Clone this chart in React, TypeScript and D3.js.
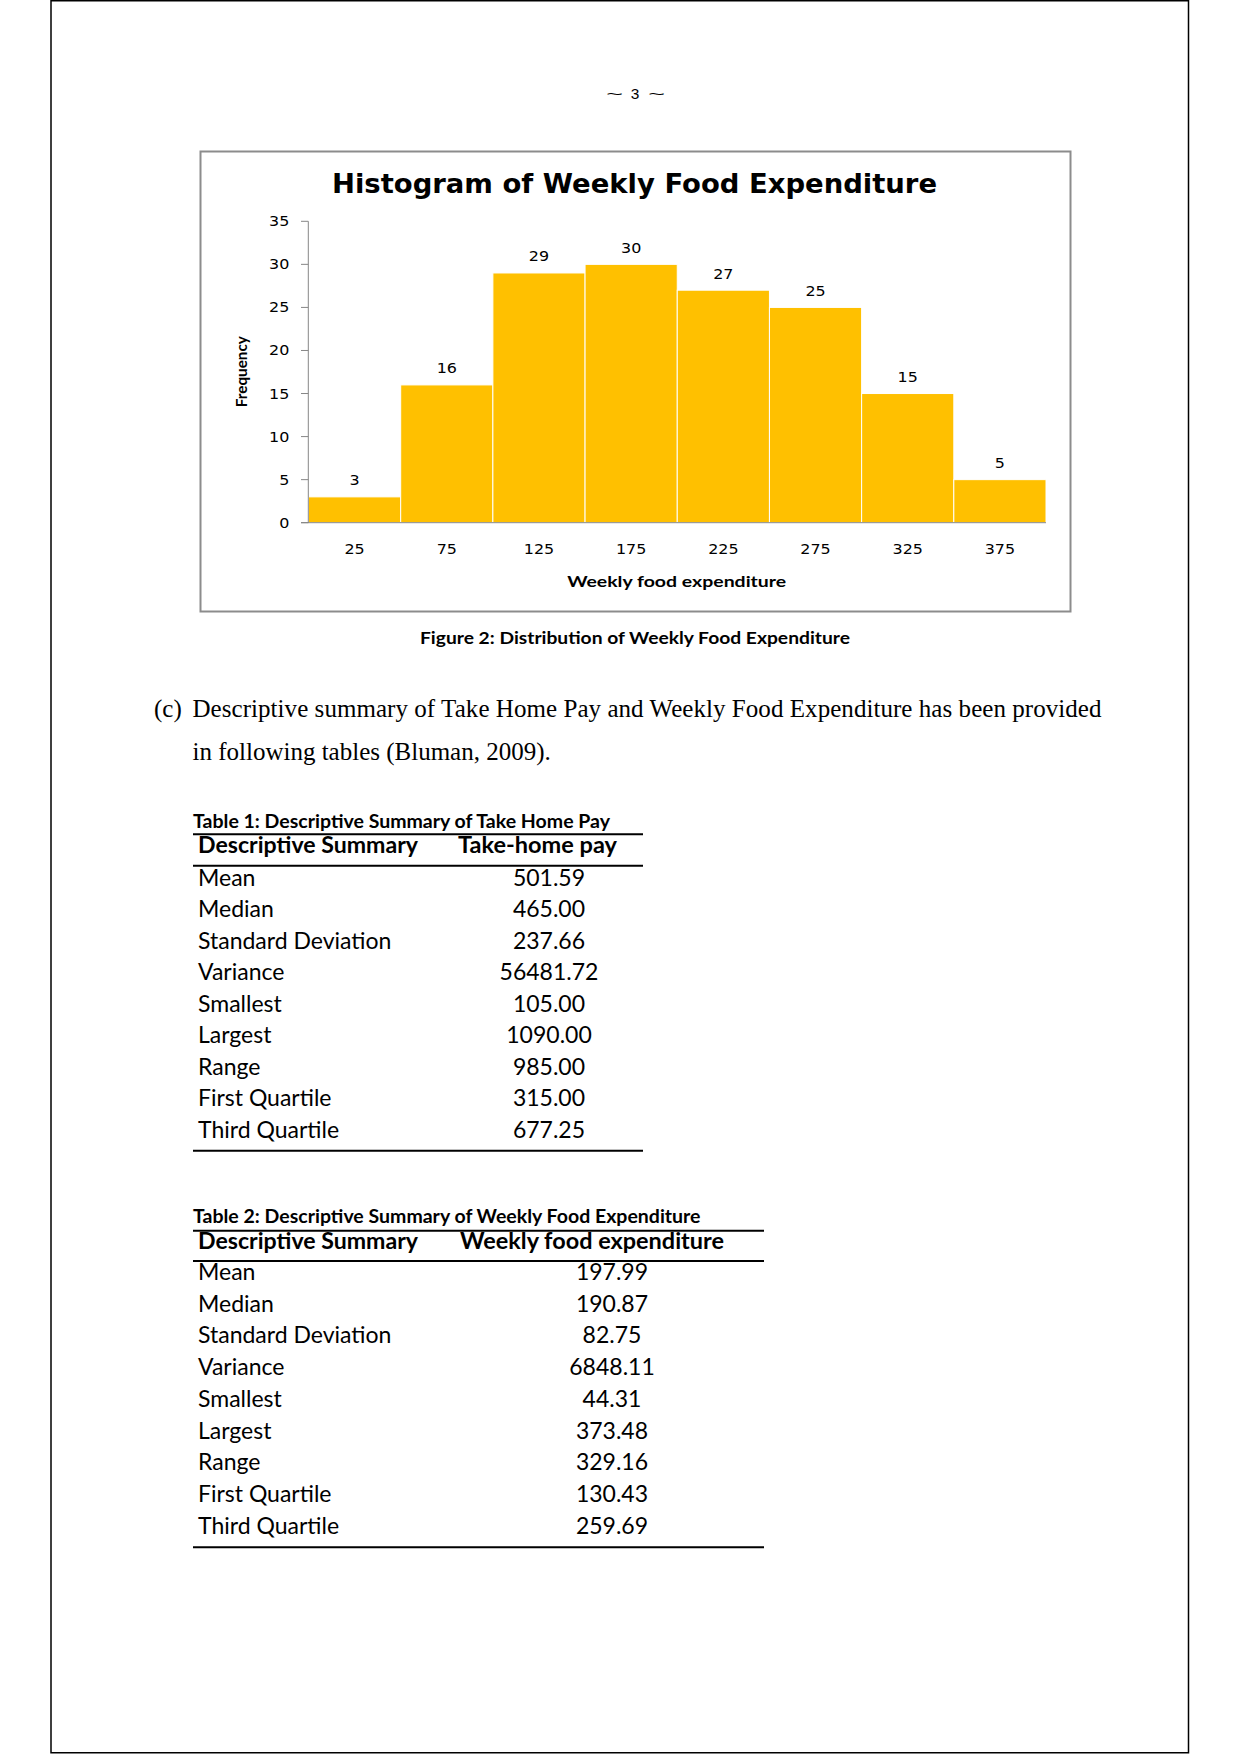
import React from "react";
import * as d3 from "d3";

const binMidpoints = ["25", "75", "125", "175", "225", "275", "325", "375"];
const frequencies = [3, 16, 29, 30, 27, 25, 15, 5];
const yTicks = [0, 5, 10, 15, 20, 25, 30, 35];

const summaryLabels = [
  "Mean",
  "Median",
  "Standard Deviation",
  "Variance",
  "Smallest",
  "Largest",
  "Range",
  "First Quartile",
  "Third Quartile",
];
const takeHomePay = ["501.59", "465.00", "237.66", "56481.72", "105.00", "1090.00", "985.00", "315.00", "677.25"];
const foodExpenditure = ["197.99", "190.87", "82.75", "6848.11", "44.31", "373.48", "329.16", "130.43", "259.69"];

const W = 1241;
const H = 1754;

function SText(props: any) {
  const { x, y, sx = 1, anchor = "start", children, ...rest } = props;
  return (
    <text transform={`translate(${x},${y}) scale(${sx},1)`} textAnchor={anchor} {...rest}>
      {children}
    </text>
  );
}

function Table(props: any) {
  const { title, titleY, titleLen, topY, right, headerY, header, headerX, headerLen, headerLineY, rowY0, rowStep, values, valueX, bottomY } = props;
  const left = 193;
  const font = "Lato, 'Open Sans', sans-serif";
  return (
    <g fontFamily={font} fill="#000">
      <text x={left} y={titleY} fontSize={18.5} fontWeight={700} textLength={titleLen} lengthAdjust="spacingAndGlyphs">
        {title}
      </text>
      <line x1={left} x2={right} y1={topY} y2={topY} stroke="#000" strokeWidth={2} />
      <text x={198} y={headerY} fontSize={23} fontWeight={700} textLength={220} lengthAdjust="spacingAndGlyphs">
        Descriptive Summary
      </text>
      <text x={headerX} y={headerY} fontSize={23} fontWeight={700} textAnchor="middle" textLength={headerLen} lengthAdjust="spacingAndGlyphs">
        {header}
      </text>
      <line x1={left} x2={right} y1={headerLineY} y2={headerLineY} stroke="#000" strokeWidth={2} />
      {summaryLabels.map((lab, i) => (
        <g key={lab}>
          <text x={198} y={rowY0 + i * rowStep} fontSize={23}>
            {lab}
          </text>
          <text x={valueX} y={rowY0 + i * rowStep} fontSize={23} textAnchor="middle">
            {values[i]}
          </text>
        </g>
      ))}
      <line x1={left} x2={right} y1={bottomY} y2={bottomY} stroke="#000" strokeWidth={2} />
    </g>
  );
}

export default function App() {
  const x = d3.scaleBand<string>().domain(binMidpoints).range([308.5, 1046]).padding(0);
  const y = d3.scaleLinear().domain([0, 35]).range([522.7, 221.3]);
  const chartFont = "'DejaVu Sans', Verdana, sans-serif";
  const sx = 1.14;
  const fs = 14;

  return (
    <svg width={W} height={H} viewBox={`0 0 ${W} ${H}`} style={{ position: "absolute", left: 0, top: 0, background: "#fff" }}>
      <rect x={0} y={0} width={W} height={H} fill="#fff" />
      {/* page border */}
      <rect x={51} y={0.75} width={1137.5} height={1752} fill="none" stroke="#000" strokeWidth={1.5} />

      {/* page number */}
      <g fontFamily="'Liberation Sans', Arial, sans-serif" fontSize={15} fill="#000">
        <SText x={614.5} y={98.7} sx={1.9} anchor="middle">~</SText>
        <SText x={635} y={98.7} sx={1.03} anchor="middle">3</SText>
        <SText x={656.5} y={98.7} sx={1.9} anchor="middle">~</SText>
      </g>

      {/* chart frame */}
      <rect x={200.5} y={151.5} width={870} height={460} fill="#fff" stroke="#8c8c8c" strokeWidth={2} />

      <text x={634.5} y={193.3} fontFamily={chartFont} fontWeight={700} fontSize={26} textAnchor="middle" textLength={605} lengthAdjust="spacingAndGlyphs" fill="#000">
        Histogram of Weekly Food Expenditure
      </text>

      {/* bars */}
      {frequencies.map((f, i) => (
        <rect
          key={binMidpoints[i]}
          x={x(binMidpoints[i])!}
          y={y(f)}
          width={x.bandwidth()}
          height={y(0) - y(f)}
          fill="#FFC000"
          stroke="#fff"
          strokeWidth={1}
        />
      ))}

      {/* axes */}
      <line x1={308.3} x2={308.3} y1={y(35)} y2={y(0)} stroke="#868686" strokeWidth={1} />
      <line x1={301} x2={1046} y1={y(0)} y2={y(0)} stroke="#868686" strokeWidth={1} />
      {yTicks.map((t) => (
        <g key={t}>
          <line x1={301} x2={308.3} y1={y(t)} y2={y(t)} stroke="#868686" strokeWidth={1} />
          <SText x={289.3} y={y(t) + 5} sx={sx} anchor="end" fontFamily={chartFont} fontSize={fs} fill="#000">
            {t}
          </SText>
        </g>
      ))}
      {binMidpoints.map((m) => (
        <SText key={m} x={x(m)! + x.bandwidth() / 2} y={554.3} sx={sx} anchor="middle" fontFamily={chartFont} fontSize={fs} fill="#000">
          {m}
        </SText>
      ))}
      {frequencies.map((f, i) => (
        <SText key={"v" + i} x={x(binMidpoints[i])! + x.bandwidth() / 2} y={y(f) - 11.5} sx={sx} anchor="middle" fontFamily={chartFont} fontSize={fs} fill="#000">
          {f}
        </SText>
      ))}

      <text
        transform={`translate(246.5,371.7) rotate(-90)`}
        textAnchor="middle"
        fontFamily="Lato, sans-serif"
        fontWeight={700}
        fontSize={16}
        textLength={71}
        lengthAdjust="spacingAndGlyphs"
        fill="#000"
      >
        Frequency
      </text>
      <text x={676.7} y={586.7} textAnchor="middle" fontFamily="Lato, sans-serif" fontWeight={700} fontSize={15} textLength={219} lengthAdjust="spacingAndGlyphs" fill="#000">
        Weekly food expenditure
      </text>

      {/* caption */}
      <text x={635} y={643.5} textAnchor="middle" fontFamily="Lato, sans-serif" fontWeight={700} fontSize={17.5} textLength={430} lengthAdjust="spacingAndGlyphs" fill="#000">
        Figure 2: Distribution of Weekly Food Expenditure
      </text>

      {/* paragraph */}
      <g fontFamily="'Liberation Serif', 'Times New Roman', serif" fontSize={25} fill="#000">
        <text x={154} y={716.5}>(c)</text>
        <text x={192.5} y={716.5} textLength={909} lengthAdjust="spacing">
          Descriptive summary of Take Home Pay and Weekly Food Expenditure has been provided
        </text>
        <text x={192.5} y={760}>in following tables (Bluman, 2009).</text>
      </g>

      <Table
        title="Table 1: Descriptive Summary of Take Home Pay"
        titleY={828.3}
        titleLen={417}
        topY={834.3}
        right={643}
        headerY={853.3}
        header="Take-home pay"
        headerX={537.5}
        headerLen={159}
        headerLineY={865.7}
        rowY0={885.7}
        rowStep={31.5}
        values={takeHomePay}
        valueX={549}
        bottomY={1150.7}
      />
      <Table
        title="Table 2: Descriptive Summary of Weekly Food Expenditure"
        titleY={1223.3}
        titleLen={507.5}
        topY={1230.7}
        right={764}
        headerY={1249.3}
        header="Weekly food expenditure"
        headerX={592}
        headerLen={264}
        headerLineY={1261}
        rowY0={1280}
        rowStep={31.7}
        values={foodExpenditure}
        valueX={612}
        bottomY={1547.3}
      />
    </svg>
  );
}
